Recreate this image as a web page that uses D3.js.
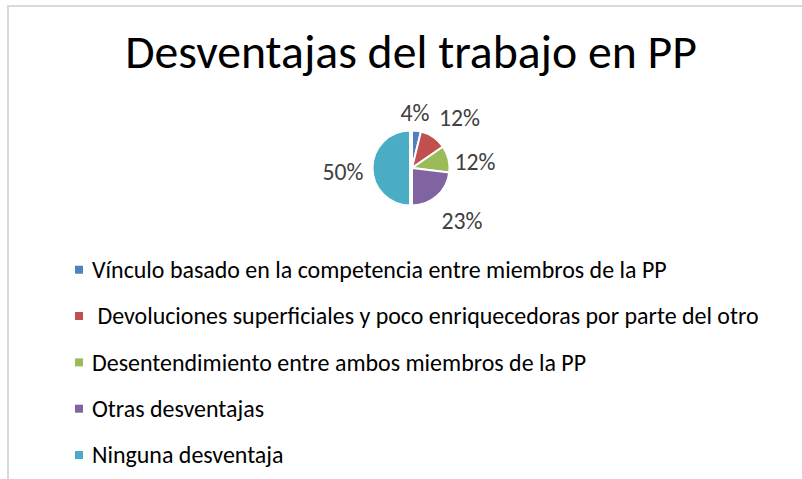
<!DOCTYPE html>
<html>
<head>
<meta charset="utf-8">
<script src="https://cdn.jsdelivr.net/npm/d3@7"></script>
<style>
  html, body { margin: 0; padding: 0; background: #fff; }
  svg { display: block; }
  text { font-family: Carlito, Lato, "Open Sans", sans-serif; }
</style>
</head>
<body>
<svg id="chart" width="802" height="479"></svg>
<script>
// ---- data ----
const title = "Desventajas del trabajo en PP";
const categories = [
  "Vínculo basado en la competencia entre miembros de la PP",
  " Devoluciones superficiales y poco enriquecedoras por parte del otro",
  "Desentendimiento entre ambos miembros de la PP",
  "Otras desventajas",
  "Ninguna desventaja"
];
const counts = [1, 3, 3, 6, 13];
const colors = ["#4F81BD", "#C0504D", "#9BBB59", "#8064A2", "#4BACC6"];

// ---- layout ----
const W = 802, H = 479;
const cx = 412, cy = 168, R = 37.5;
const labelR = 65;
const labelNudge = [[-4.8, 9.5], [10.6, 3.2], [-0.1, 9.2], [6.9, 4.3], [-4, 3.7]];

const svg = d3.select("#chart");
svg.append("rect").attr("width", W).attr("height", H).attr("fill", "#fff");

// chart border (top + left visible)
svg.append("path")
  .attr("d", `M8,${H} L8,6 L${W},6`)
  .attr("fill", "none").attr("stroke", "#d9d9d9").attr("stroke-width", 2);

function fit(sel, target) {
  const len = sel.node().getComputedTextLength();
  const fs = parseFloat(sel.attr("font-size"));
  return fs * target / len;
}

// title
const t = svg.append("text")
  .attr("x", 411).attr("y", 68)
  .attr("text-anchor", "middle")
  .attr("font-size", 36).attr("fill", "#000")
  .text(title);
t.attr("font-size", fit(t, 572));

// pie
const total = d3.sum(counts);
const pie = d3.pie().sort(null).value(d => d)(counts);
const arc = d3.arc().innerRadius(0).outerRadius(R);
const lArc = d3.arc().innerRadius(labelR).outerRadius(labelR);
const g = svg.append("g").attr("transform", `translate(${cx},${cy})`);

g.selectAll("path.slice").data(pie).enter().append("path")
  .attr("class", "slice")
  .attr("d", arc)
  .attr("fill", (d, i) => colors[i])
  .attr("stroke", "#fff").attr("stroke-width", 2)
  .attr("transform", (d, i) => {
    if (i !== 4) return null;
    const a = (d.startAngle + d.endAngle) / 2;
    return `translate(${Math.sin(a) * 2},${-Math.cos(a) * 2})`;
  });

const fmt = v => Math.round(v / total * 100) + "%";
const labels = g.selectAll("text.lbl").data(pie).enter().append("text")
  .attr("class", "lbl")
  .attr("text-anchor", "middle")
  .attr("font-size", 20)
  .attr("fill", "#404040")
  .attr("x", (d, i) => lArc.centroid(d)[0] + labelNudge[i][0])
  .attr("y", (d, i) => lArc.centroid(d)[1] + labelNudge[i][1])
  .attr("dy", "0.35em")
  .text(d => fmt(d.data));
const lfs = fit(labels.filter((d, i) => i === 4), 41);
labels.attr("font-size", lfs);

// legend
const rowY = d3.scalePoint().domain(d3.range(categories.length)).range([269.7, 455]);
const lg = svg.append("g");
const rows = lg.selectAll("g").data(categories).enter().append("g")
  .attr("transform", (d, i) => `translate(0,${rowY(i)})`);
rows.append("rect").attr("x", 75).attr("y", -4).attr("width", 8).attr("height", 8)
  .attr("fill", (d, i) => colors[i]);
const lt = rows.append("text")
  .attr("x", 92).attr("y", 0).attr("dy", "0.35em")
  .attr("font-size", 20).attr("fill", "#000")
  .style("white-space", "pre")
  .text(d => d);
const legFs = fit(lt.filter((d, i) => i === 0), 575);
lt.attr("font-size", legFs);
</script>
</body>
</html>
